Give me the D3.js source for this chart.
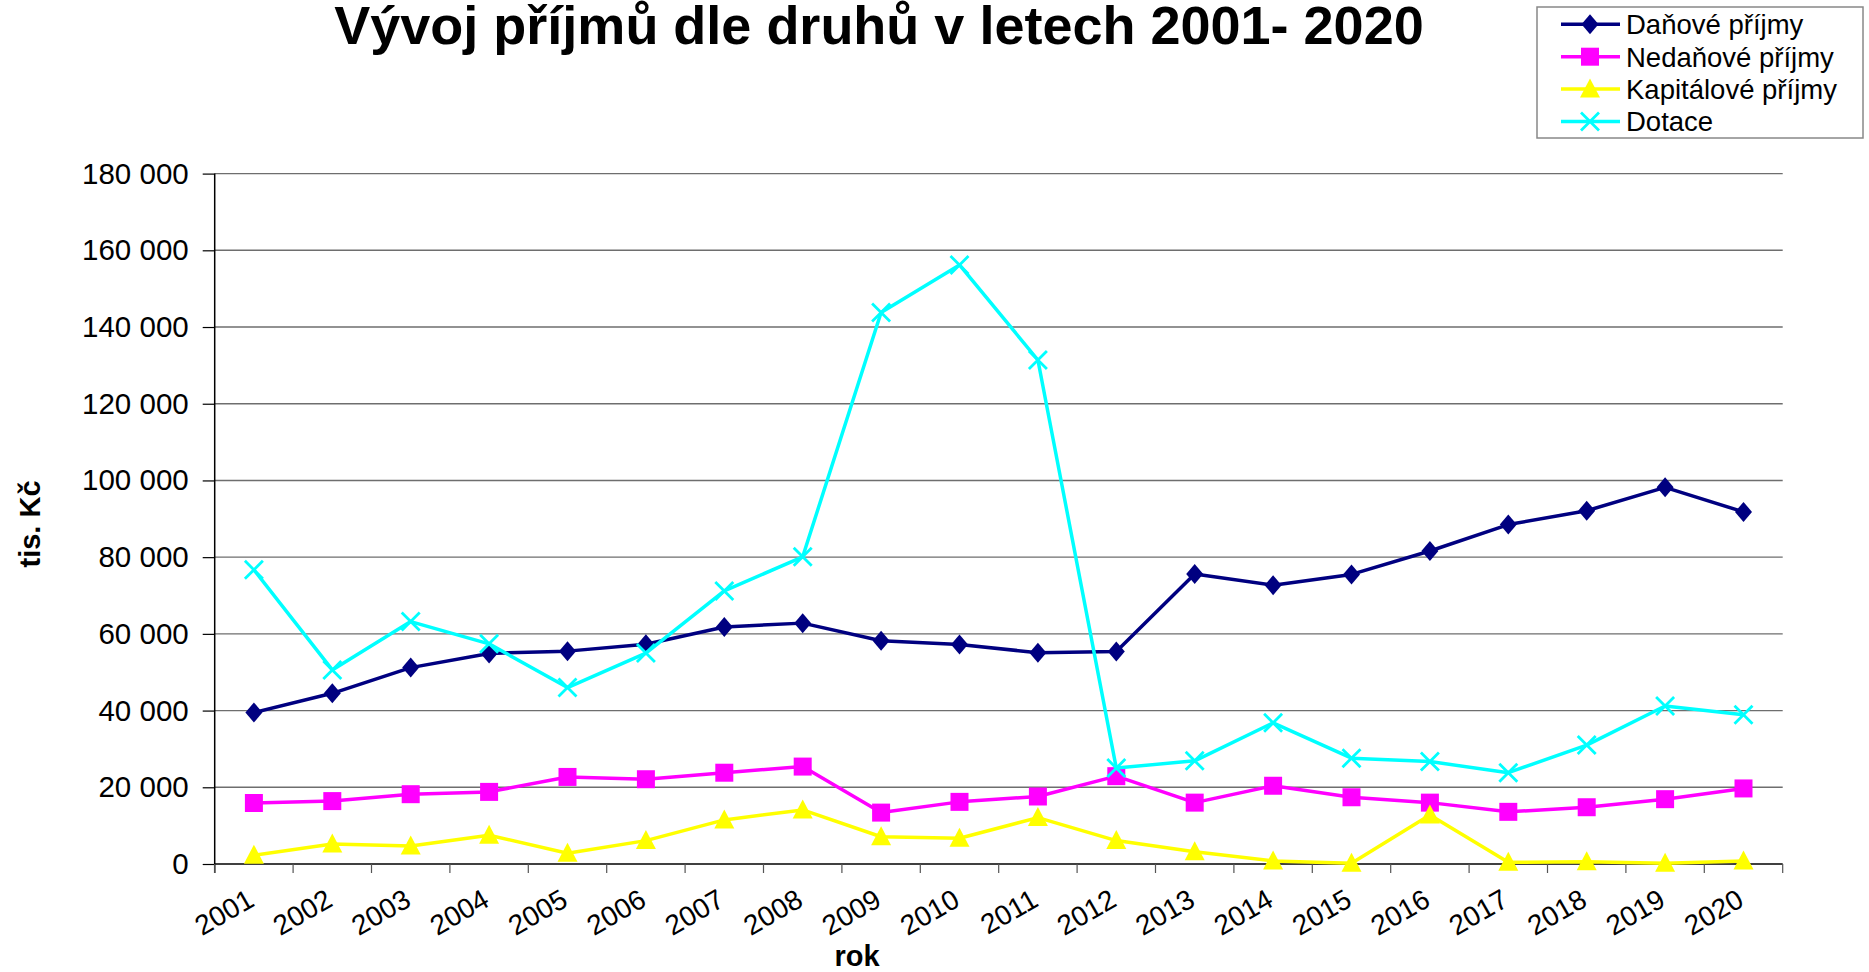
<!DOCTYPE html>
<html>
<head>
  <meta charset="utf-8">
  <title>Vývoj příjmů dle druhů</title>
  <script src="https://d3js.org/d3.v7.min.js"></script>
  <style>
    body { margin: 0; background: white; }
    svg { display: block; font-family: "Liberation Sans", Arial, sans-serif; }
  </style>
</head>
<body>
<svg id="chart" width="1869" height="972"></svg>
<script>
  // data (tis. Kč)
  var years = ["2001","2002","2003","2004","2005","2006","2007","2008","2009","2010",
               "2011","2012","2013","2014","2015","2016","2017","2018","2019","2020"];
  var danove    = [39500, 44500, 51200, 54900, 55500, 57300, 61800, 62800, 58200, 57200,
                   55100, 55400, 75600, 72700, 75500, 81600, 88500, 92100, 98200, 91800];
  var nedanove  = [15900, 16400, 18200, 18800, 22700, 22100, 23800, 25400, 13400, 16200,
                   17600, 22900, 16000, 20400, 17400, 16000, 13600, 14800, 16900, 19700];
  var kapitalove = [2300, 5200, 4700, 7500, 2800, 6100, 11500, 14100, 7100, 6700,
                    12100, 6100, 3200, 800, 200, 12800, 450, 600, 200, 800];
  var dotace    = [76700, 50600, 63200, 57400, 46000, 55000, 71200, 80100, 143800, 156200,
                   131400, 25000, 26900, 36800, 27600, 26700, 23800, 31000, 41200, 38900];
  var seriesNames = ["Daňové příjmy", "Nedaňové příjmy", "Kapitálové příjmy", "Dotace"];
  var seriesColors = ["#000080", "#FF00FF", "#FFFF00", "#00FFFF"];
  var seriesMarkers = ["diamond", "square", "triangle", "cross"];
  var yTicks = [0, 20000, 40000, 60000, 80000, 100000, 120000, 140000, 160000, 180000];

  var series = [danove, nedanove, kapitalove, dotace].map(function (vals, i) {
    return { name: seriesNames[i], color: seriesColors[i], marker: seriesMarkers[i], values: vals };
  });

  var svg = d3.select("#chart");
  var plotL = 214.7, plotR = 1782.7, plotT = 173.6, plotB = 864;

  var x = d3.scaleBand().domain(years).range([plotL, plotR]).padding(0);
  var y = d3.scaleLinear().domain([0, 180000]).range([plotB, plotT]);
  var fmt = d3.formatLocale({ decimal: ",", thousands: " ", grouping: [3], currency: ["", ""] }).format(",d");
  var cx = d => x(d) + x.bandwidth() / 2;

  // marker shapes
  function markerPath(type) {
    var p = d3.path();
    if (type == "diamond") {
      p.moveTo(0, -10); p.lineTo(8.5, 0); p.lineTo(0, 10); p.lineTo(-8.5, 0); p.closePath();
    } else if (type == "square") {
      p.rect(-9, -9, 18, 18);
    } else if (type == "triangle") {
      p.moveTo(0, -10.5); p.lineTo(10, 8.5); p.lineTo(-10, 8.5); p.closePath();
    } else {
      p.moveTo(-9, -9); p.lineTo(9, 9); p.moveTo(9, -9); p.lineTo(-9, 9);
    }
    return p.toString();
  }
  function drawMarker(g, type, color) {
    if (type == "cross") {
      g.append("path").attr("d", markerPath(type)).attr("fill", "none")
        .attr("stroke", color).attr("stroke-width", 2.8);
    } else {
      g.append("path").attr("d", markerPath(type)).attr("fill", color);
    }
  }

  // gridlines
  svg.append("g").selectAll("line").data(yTicks.slice(1))
    .join("line")
    .attr("x1", plotL).attr("x2", plotR)
    .attr("y1", d => y(d)).attr("y2", d => y(d))
    .attr("stroke", "#6e6e6e").attr("stroke-width", 1.4);

  // y axis
  var yAxis = svg.append("g").attr("transform", "translate(" + plotL + ",0)")
    .call(d3.axisLeft(y).tickValues(yTicks).tickFormat(fmt).tickSize(12).tickPadding(14));
  yAxis.select(".domain").attr("stroke", "#000").attr("stroke-width", 1.5)
    .attr("d", "M0," + plotT + "V" + (plotB + 9));
  yAxis.selectAll(".tick line").attr("stroke", "#000").attr("stroke-width", 1.2);
  yAxis.selectAll(".tick text").attr("font-size", 29.5).attr("fill", "#000")
    .attr("font-family", "Liberation Sans, Arial, sans-serif");

  // x axis
  var xAxis = svg.append("g").attr("transform", "translate(0," + plotB + ")");
  xAxis.append("line").attr("x1", plotL).attr("x2", plotR).attr("stroke", "#000").attr("stroke-width", 1.5);
  xAxis.selectAll(".xtick").data(years.concat(["end"]))
    .join("line")
    .attr("class", "xtick")
    .attr("x1", (d, i) => plotL + i * x.bandwidth())
    .attr("x2", (d, i) => plotL + i * x.bandwidth())
    .attr("y1", 0).attr("y2", 9)
    .attr("stroke", "#555").attr("stroke-width", 1.2);
  xAxis.selectAll(".xlab").data(years)
    .join("text")
    .attr("class", "xlab")
    .attr("transform", d => "translate(" + (cx(d) + 2) + ",41) rotate(-30)")
    .attr("text-anchor", "end")
    .attr("font-size", 28)
    .attr("fill", "#000")
    .text(d => d);

  // axis titles
  svg.append("text").attr("x", 857).attr("y", 966).attr("text-anchor", "middle")
    .attr("font-size", 29).attr("font-weight", "bold").text("rok");
  svg.append("text").attr("transform", "translate(40,524) rotate(-90)").attr("text-anchor", "middle")
    .attr("font-size", 29).attr("font-weight", "bold").text("tis. Kč");

  // title
  svg.append("text").attr("x", 879).attr("y", 44).attr("text-anchor", "middle")
    .attr("font-size", 54).attr("font-weight", "bold").text("Vývoj příjmů dle druhů v letech 2001- 2020");

  // lines + markers
  var line = d3.line().x((d, i) => cx(years[i])).y(d => y(d));
  series.forEach(function (s) {
    var g = svg.append("g");
    g.append("path").datum(s.values).attr("d", line)
      .attr("fill", "none").attr("stroke", s.color).attr("stroke-width", 3.5).attr("stroke-linejoin", "round");
    s.values.forEach(function (v, i) {
      var m = g.append("g").attr("transform", "translate(" + cx(years[i]) + "," + y(v) + ")");
      drawMarker(m, s.marker, s.color);
    });
  });

  // legend
  var legend = svg.append("g");
  legend.append("rect").attr("x", 1537).attr("y", 7).attr("width", 326).attr("height", 131)
    .attr("fill", "white").attr("stroke", "#888").attr("stroke-width", 1.5);
  series.forEach(function (s, i) {
    var ly = 24.3 + i * 32.4;
    var row = legend.append("g");
    row.append("line").attr("x1", 1561).attr("x2", 1620).attr("y1", ly).attr("y2", ly)
      .attr("stroke", s.color).attr("stroke-width", 3.5);
    var m = row.append("g").attr("transform", "translate(1590," + ly + ")");
    drawMarker(m, s.marker, s.color);
    row.append("text").attr("x", 1626).attr("y", ly + 9.8).attr("font-size", 27.5).attr("fill", "#000").text(s.name);
  });
</script>
</body>
</html>
